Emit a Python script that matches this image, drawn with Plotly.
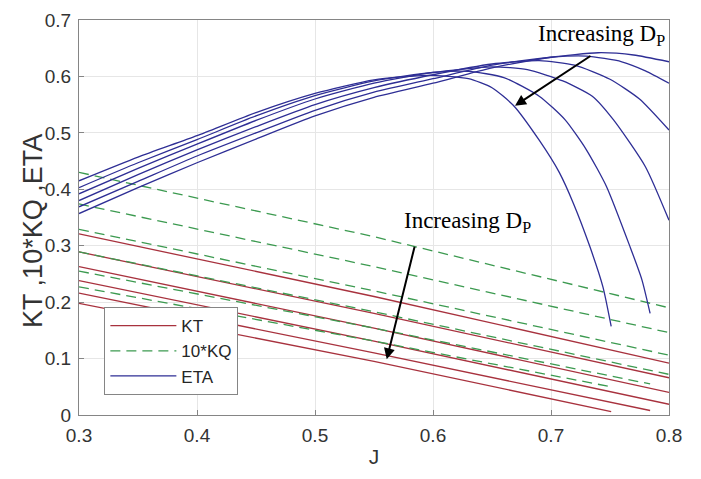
import plotly.graph_objects as go

# ---- data ----
# index 0 = largest D_P ... index 5 = smallest D_P
kt_J = [[0.30, 0.55, 0.751], [0.30, 0.55, 0.784], [0.30, 0.55, 0.80],
        [0.30, 0.55, 0.80], [0.30, 0.55, 0.80], [0.30, 0.55, 0.80]]
kt_vals = [[0.198, 0.095, 0.006], [0.216, 0.110, 0.008], [0.238, 0.131, 0.019],
           [0.263, 0.154, 0.040], [0.289, 0.180, 0.066], [0.321, 0.210, 0.092]]

kq_J = kt_J
kq10_vals = [[0.227, 0.131, 0.050], [0.255, 0.154, 0.055], [0.289, 0.183, 0.072],
             [0.329, 0.220, 0.106], [0.374, 0.263, 0.146], [0.430, 0.316, 0.190]]

eta_J = [
    [0.30, 0.35, 0.40, 0.45, 0.50, 0.55, 0.595, 0.63, 0.65, 0.668, 0.69, 0.707, 0.719, 0.733, 0.744, 0.751],
    [0.30, 0.35, 0.40, 0.45, 0.50, 0.55, 0.60, 0.63, 0.66, 0.69, 0.712, 0.73, 0.747, 0.767, 0.777, 0.784],
    [0.30, 0.35, 0.40, 0.45, 0.50, 0.55, 0.60, 0.65, 0.68, 0.71, 0.735, 0.753, 0.78, 0.80],
    [0.30, 0.35, 0.40, 0.45, 0.50, 0.55, 0.60, 0.65, 0.69, 0.72, 0.75, 0.775, 0.80],
    [0.30, 0.35, 0.40, 0.45, 0.50, 0.55, 0.60, 0.65, 0.70, 0.73, 0.76, 0.78, 0.80],
    [0.30, 0.35, 0.40, 0.45, 0.50, 0.55, 0.60, 0.65, 0.70, 0.74, 0.77, 0.80],
]
eta_vals = [
    [0.415, 0.457, 0.495, 0.536, 0.570, 0.594, 0.602, 0.596, 0.580, 0.549, 0.487, 0.430, 0.375, 0.298, 0.227, 0.157],
    [0.403, 0.447, 0.488, 0.530, 0.566, 0.592, 0.607, 0.609, 0.598, 0.565, 0.523, 0.470, 0.405, 0.298, 0.240, 0.180],
    [0.392, 0.437, 0.480, 0.522, 0.560, 0.588, 0.607, 0.617, 0.612, 0.592, 0.565, 0.523, 0.440, 0.345],
    [0.380, 0.426, 0.470, 0.511, 0.550, 0.580, 0.603, 0.622, 0.628, 0.620, 0.595, 0.560, 0.505],
    [0.369, 0.414, 0.459, 0.500, 0.540, 0.572, 0.596, 0.620, 0.634, 0.636, 0.626, 0.610, 0.588],
    [0.357, 0.403, 0.447, 0.489, 0.530, 0.563, 0.588, 0.615, 0.634, 0.642, 0.638, 0.626],
]

series_names = ["KT", "10*KQ", "ETA"]
series_colors = ["#a8323e", "#3c9a50", "#2e2e95"]
y_title = "KT ,10*KQ ,ETA"
x_title = "J"

fig = go.Figure()

for i in range(len(kt_vals)):
    fig.add_trace(go.Scatter(x=kt_J[i], y=kt_vals[i], mode="lines",
                             line=dict(color=series_colors[0], width=1.3),
                             name=series_names[0], legendgroup="kt",
                             showlegend=(i == 0)))
for i in range(len(kq10_vals)):
    fig.add_trace(go.Scatter(x=kq_J[i], y=kq10_vals[i], mode="lines",
                             line=dict(color=series_colors[1], width=1.3, dash="10px,6px"),
                             name=series_names[1], legendgroup="kq",
                             showlegend=(i == 0)))
for i in range(len(eta_vals)):
    fig.add_trace(go.Scatter(x=eta_J[i], y=eta_vals[i], mode="lines",
                             line=dict(color=series_colors[2], width=1.3, shape="spline", smoothing=0.6),
                             name=series_names[2], legendgroup="eta",
                             showlegend=(i == 0)))

axis_common = dict(showgrid=True, gridcolor="#e6e6e6", gridwidth=1,
                   showline=True, linecolor="#858585", linewidth=1, mirror=True,
                   ticks="inside", ticklen=5, tickcolor="#858585", automargin=False,
                   zeroline=False, tickfont=dict(size=19, color="#333333"))

# page body has an 8px default margin, so the figure is sized to fit the window
fig.update_layout(
    width=693, height=471,
    margin=dict(l=71, r=32, t=12, b=64, pad=0),
    paper_bgcolor="white", plot_bgcolor="white",
    font=dict(family="Liberation Sans, Arial, sans-serif", color="#333333"),
    xaxis=dict(range=[0.3, 0.8], dtick=0.1, tick0=0.3, tickformat=".1f",
               title=dict(text=x_title, font=dict(size=21), standoff=4),
               ticklabelstandoff=3, **axis_common),
    yaxis=dict(range=[0, 0.7], dtick=0.1, tick0=0, tickformat="~g",
               ticklabelstandoff=3, **axis_common),
    legend=dict(x=0.043, y=0.273, xanchor="left", yanchor="top",
                bgcolor="white", bordercolor="#858585", borderwidth=1,
                font=dict(size=17, color="#262626"), tracegroupgap=0,
                traceorder="normal", itemwidth=66),
    showlegend=True,
)

# y axis title
fig.add_annotation(x=-0.077, y=0.465, xref="paper", yref="paper", text=y_title,
                   textangle=-90, showarrow=False, xanchor="center", yanchor="middle",
                   font=dict(size=27, color="#333333"))

annot_font = dict(family="Liberation Serif, Times New Roman, serif", size=23, color="black")
fig.add_annotation(x=0.7432, y=0.673, xref="x", yref="y", text="Increasing D<sub>P</sub>",
                   showarrow=False, font=annot_font)
fig.add_annotation(x=0.6292, y=0.342, xref="x", yref="y", text="Increasing D<sub>P</sub>",
                   showarrow=False, font=annot_font)
fig.add_annotation(x=0.6695, y=0.548, ax=0.7347, ay=0.638, xref="x", yref="y",
                   axref="x", ayref="y", text="", showarrow=True,
                   arrowhead=2, arrowsize=1.1, arrowwidth=2, arrowcolor="black")
fig.add_annotation(x=0.5608, y=0.0987, ax=0.5847, ay=0.301, xref="x", yref="y",
                   axref="x", ayref="y", text="", showarrow=True,
                   arrowhead=2, arrowsize=1.1, arrowwidth=2, arrowcolor="black")

fig.write_html("out.html")
